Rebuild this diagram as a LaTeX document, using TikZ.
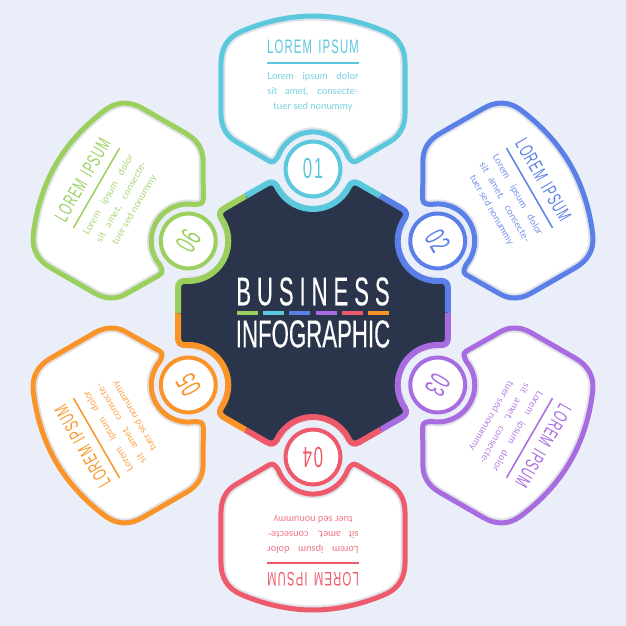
\documentclass[tikz,border=0pt]{standalone}
\usepackage{fontspec}
\setmainfont{Lato}
\newfontfamily\condfont[FakeStretch=0.57,FakeBold=0.25]{Liberation Sans}
\newfontfamily\widefont[FakeStretch=0.55,LetterSpace=15,FakeBold=0.25]{Liberation Sans}
\newfontfamily\headfont[FakeStretch=0.58,LetterSpace=6]{Liberation Sans}
\definecolor{pagebg}{HTML}{E9EEF8}
\definecolor{hubdark}{HTML}{2A344A}
\definecolor{edgegray}{HTML}{DFE2E8}
\definecolor{cardcyan}{HTML}{5BC8DE}
\definecolor{cardblue}{HTML}{5B7FE8}
\definecolor{cardpurple}{HTML}{A86BE0}
\definecolor{cardred}{HTML}{EE5A6C}
\definecolor{cardorange}{HTML}{FA9428}
\definecolor{cardgreen}{HTML}{9BD05F}
\def\cardpath{(-34.8,156.7) arc (160:20:37)
	.. controls (37,154) and (39,149) .. (44,152) -- (78,172)
	.. controls (87,177.5) and (92,187) .. (92,199) -- (92,250)
	.. controls (92,264) and (86,275) .. (73,281)
	.. controls (50,291) and (25,297) .. (0,297)
	.. controls (-25,297) and (-50,291) .. (-73,281)
	.. controls (-86,275) and (-92,264) .. (-92,250) -- (-92,199)
	.. controls (-92,187) and (-87,177.5) .. (-78,172) -- (-44,152)
	.. controls (-39,149) and (-37,154) .. (-34.8,156.7)}
\def\hubpath{(67.5,116.9) -- (46,129.3)
	.. controls (41.5,131.9) and (38.5,130.5) .. (36.25,127.1) arc (-25:-155:40)
	.. controls (-38.5,130.5) and (-41.5,131.9) .. (-46,129.3) -- (-67.5,116.9)}
\tikzset{
	cardline/.style={line width=5pt,line join=round},
	headtext/.style={inner sep=0pt,font=\headfont\fontsize{19.5}{20}\selectfont},
	bodytext/.style={inner sep=0pt,align=center,font=\fontsize{9.6}{15}\selectfont},
	numtext/.style={inner sep=0pt,font=\headfont\fontsize{29}{30}\selectfont},
	colorbar/.style={line width=3.6pt},
}
\begin{document}
\begin{tikzpicture}[x=1pt,y=1pt]
	\useasboundingbox[fill=pagebg] (-313,-313) rectangle (313,313);
	\foreach \n/\ang/\col in {1/0/cardcyan,2/-60/cardblue,3/-120/cardpurple,4/180/cardred,5/120/cardorange,6/60/cardgreen}{
		\begin{scope}[rotate=\ang,transform shape]
			% hub piece
			\fill[hubdark] (0,0) -- \hubpath -- cycle;
			\draw[hubdark,line width=.6pt] (0,0) -- (67.5,116.9) (0,0) -- (-67.5,116.9);
			\draw[edgegray,line width=1.6pt] (31.2,126) arc (-25:-155:34.5);
			\draw[\col,line width=6pt] \hubpath;
			% card
			\fill[white] \cardpath -- cycle;
			\begin{scope}
				\clip \cardpath -- cycle;
				\draw[edgegray,line width=9pt] \cardpath -- cycle;
			\end{scope}
			\draw[\col,cardline] \cardpath -- cycle;
			\node[draw=\col,fill=white,circle,line width=4pt,minimum size=55pt,inner sep=0pt] (circ\n) at (0,144) {};
			\node[numtext,text=\col] (num\n) at (0,144) {0\n};
			\node[headtext,text=\col] (head\n) at (0,266) {LOREM\hspace{2pt} IPSUM};
			\coordinate (ruleL\n) at (-46,250);
			\coordinate (ruleR\n) at (46,250);
			\draw[\col,line width=1.5pt] (ruleL\n) -- (ruleR\n);
			\node[bodytext,text=\col!85!white] (body\n) at (0,221) {\makebox[91pt][s]{Lorem ipsum dolor}\\\makebox[91pt][s]{sit amet, consecte-}\\tuer sed nonummy};
		\end{scope}
	}
	% title
	\node[inner sep=0pt,text=white,font=\widefont\fontsize{40}{40}\selectfont] (title) at (0,21.5) {BUSINESS};
	\node[inner sep=0pt,text=white,font=\condfont\fontsize{39}{40}\selectfont] (subtitle) at (0,-21) {INFOGRAPHIC};
	\foreach \k/\col in {0/cardgreen,1/cardcyan,2/cardblue,3/cardpurple,4/cardred,5/cardorange}{
		\draw[\col,colorbar] (-76+26.2*\k,0) -- ++(21,0);
	}
\end{tikzpicture}
\end{document}
